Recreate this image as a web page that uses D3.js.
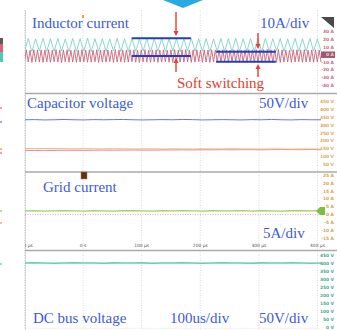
<!DOCTYPE html>
<html><head><meta charset="utf-8">
<script src="https://cdn.jsdelivr.net/npm/d3@7"></script>
<style>html,body{margin:0;padding:0;background:#fff;overflow:hidden}svg{display:block}</style>
</head><body>
<svg id="c" width="337" height="330"></svg>
<script>
// ---------- data ----------
const timeTicks = [-100, 0, 100, 200, 300, 400];
const timeTickLabels = ["-100 µs", "0 s", "100 µs", "200 µs", "300 µs", "400 µs"];
const tStart = -100, tEnd = 406;

// inductor current (A): alternating valley/peak values of the two phase currents
const inductorTeal = [4.2,21.0,3.8,20.6,4.5,21.3,3.9,20.8,4.1,21.1,4.4,20.5,3.7,21.2,4.0,20.9,4.3,21.4,3.6,20.7,
  4.2,21.0,3.9,20.6,4.6,21.2,4.0,20.8,3.8,21.3,4.1,20.5,4.4,21.1,3.7,20.9,4.2,21.2,3.9,20.7,
  4.3,21.0,3.8,20.6,4.5,21.3,4.0,20.8,4.1,21.1,3.6,20.5,4.4,21.2,3.9,20.9,4.2,21.4,3.8,20.7,
  4.0,21.0,4.3,20.6,3.7,21.2,4.1,20.8,4.5,21.1,3.9,20.5,4.2,21.3,3.8,20.9,4.0,21.0,4.4,20.7,4.1];
const inductorRed = [-10.2,6.1,-9.8,5.7,-10.5,6.3,-9.6,5.9,-10.1,6.0,-10.4,5.8,-9.9,6.2,-10.3,5.6,-9.7,6.4,-10.0,5.9,
  -10.6,6.0,-9.8,6.2,-10.2,5.7,-9.9,6.1,-10.4,5.8,-10.0,6.3,-9.7,5.9,-10.3,6.0,-10.1,5.6,-9.8,6.2,
  -10.5,5.9,-9.9,6.1,-10.2,6.0,-9.6,5.8,-10.4,6.3,-10.0,5.7,-9.8,6.1,-10.3,5.9,-10.1,6.2,-9.7,6.0,
  -10.2,5.8,-10.5,6.1,-9.9,6.3,-10.0,5.7,-10.3,6.0,-9.8,6.2,-10.4,5.9,-10.1,6.1,-9.7,5.8,-10.2,6.0,
  -10.6,6.4,-9.9,5.9,-10.2,6.1,-10.0,6.3,-9.8,5.8,-10.4,6.0,-10.1,6.2,-9.7,5.7,-10.3,6.1,-10.0,5.9,
  -10.5,6.2,-9.8,6.0,-10.2,5.8,-10.1,6.3,-9.9,6.1,-10.4,5.9,-10.0,6.0,-9.7,6.2,-10.3,5.8,-10.1,6.1,
  -10.6,6.3,-10.2,6.1,-10.7,6.5,-10.3,6.2,-10.8,6.4,-10.1,6.6,-10.5,6.2,-10.9,6.3,-10.4,6.5,-10.6,6.1,
  -10.2,6.0,-9.9,5.8,-10.3,6.2,-10.0,6.1,-9.7,5.9,-10.4,6.3,-10.1,5.8,-9.8,6.0,-10.2,6.1,-10.0,5.9,-10.1];

// capacitor voltages (V)
const capBlue = [334,335,333,334,336,334,333,335,334,335,336,334,333,334,335,334,336,335,333,334,335,334,333,335,334,336,334,333,335,334,334];
const capOrange = [149,148,149,148,148,147,148,147,147,148,147,146,147,147,146,147,146,146,147,146,146,147,146,146,145,146,146,145,146,146,145];
const capPink = [136,137,136,137,138,138,137,138,139,138,139,140,139,139,140,140,141,140,141,141,142,141,142,142,141,142,143,142,142,143,142];
// grid current (A)
const gridCurrent = [2.3,2.4,2.2,2.3,2.5,2.3,2.2,2.4,2.3,2.2,2.4,2.5,2.3,2.2,2.4,2.3,2.5,2.3,2.2,2.4,2.3,2.3,2.5,2.2,2.4,2.3,2.2,2.4,2.5,2.3,2.4];
// DC bus voltage (V)
const dcBus = [400,401,400,399,400,401,400,400,399,401,400,400,401,399,400,400,401,400,399,400,401,400,400,399,401,400,400,401,400,399,400];

// right-hand scale labels
const p1Ticks = [30,20,10,0,-10,-20,-30,-40];
const p2Ticks = [450,400,350,300,250,200,150,100,50];
const p3Ticks = [25,20,15,10,5,0,-5,-10,-15];
const p4Ticks = [450,400,350,300,250,200,150,100,50,0];

// soft-switching marker windows: [t start µs, t end µs, level A]
const markerLines = [[83, 184, 21.5], [83, 184, -2], [227, 329, 3.7], [227, 329, -9.6]];

// ---------- drawing ----------
const svg = d3.select("#c");
const x = d3.scaleLinear().domain([-100, 400]).range([24.5, 317.5]);

const panels = [
  {top: 10, bottom: 93, y: d3.scaleLinear().domain([-40, 30]).range([84.8, 31.7]), ticks: p1Ticks, unit: "A", color: "#c96a84"},
  {top: 94, bottom: 171.5, y: d3.scaleLinear().domain([50, 450]).range([164, 101.7]), ticks: p2Ticks, unit: "V", color: "#dcaa5e"},
  {top: 172.5, bottom: 250, y: d3.scaleLinear().domain([-15, 25]).range([238.3, 175]), ticks: p3Ticks, unit: "A", color: "#d4a552"},
  {top: 251, bottom: 330, y: d3.scaleLinear().domain([0, 450]).range([327.3, 255]), ticks: p4Ticks, unit: "V", color: "#4aae90"}
];

const defs = svg.append("defs");
panels.forEach((p, i) => {
  defs.append("clipPath").attr("id", "clip" + i).append("rect")
    .attr("x", 25).attr("y", p.top).attr("width", 300).attr("height", p.bottom - p.top);
});
defs.append("clipPath").attr("id", "clipAxis").append("rect")
  .attr("x", 25).attr("y", 0).attr("width", 312).attr("height", 330);

// top chevron
svg.append("polygon").attr("points", "163,0 203,0 183,8").attr("fill", "#29a9e1");

// left strip markers
[[38, 44, "#5a5a5a"], [44, 52, "#e0607c"], [52, 62, "#4fc8b6"]].forEach(d => {
  svg.append("rect").attr("x", 0).attr("y", d[0]).attr("width", 3).attr("height", d[1] - d[0]).attr("fill", d[2]);
});
[[107, "#f0a0b8"], [121, "#a0a8e8"], [148, "#f0c080"], [152, "#f0a0c8"], [210, "#c0e090"], [222, "#f0c0a0"], [263, "#90e0c8"]].forEach(d => {
  svg.append("rect").attr("x", 0).attr("y", d[0]).attr("width", 2).attr("height", 2).attr("fill", d[1]);
});

// left border
svg.append("line").attr("x1", 25.5).attr("x2", 25.5).attr("y1", 10).attr("y2", 330).attr("stroke", "#d4d4d4").attr("stroke-width", 1);

// vertical dotted grid
timeTicks.forEach(t => {
  svg.append("line").attr("x1", x(t)).attr("x2", x(t)).attr("y1", 10).attr("y2", 330)
    .attr("stroke", "#d2d2d2").attr("stroke-width", 0.8).attr("stroke-dasharray", "1,1.5");
});

// grid-current zero reference and dc bus bottom dotted line
svg.append("line").attr("x1", 25).attr("x2", 320).attr("y1", panels[2].y(0)).attr("y2", panels[2].y(0))
  .attr("stroke", "#e4a0a0").attr("stroke-width", 0.9).attr("stroke-dasharray", "1,1.5");
svg.append("line").attr("x1", 25).attr("x2", 320).attr("y1", panels[3].y(0) + 1).attr("y2", panels[3].y(0) + 1)
  .attr("stroke", "#d8d8d8").attr("stroke-width", 0.8).attr("stroke-dasharray", "1,1.5");

// separators
[93.5, 172, 250.5].forEach(yy => {
  svg.append("line").attr("x1", 25).attr("x2", 337).attr("y1", yy).attr("y2", yy).attr("stroke", "#aaaaaa").attr("stroke-width", 1.5);
});

function series(vals) {
  const dt = (tEnd - tStart) / (vals.length - 1);
  return vals.map((v, i) => [tStart + i * dt, v]);
}
function drawLine(pi, vals, color, w) {
  const p = panels[pi];
  const line = d3.line().x(d => x(d[0])).y(d => p.y(d[1]));
  svg.append("path").attr("d", line(series(vals))).attr("fill", "none")
    .attr("stroke", color).attr("stroke-width", w).attr("clip-path", "url(#clip" + pi + ")");
}

drawLine(0, inductorRed, "#c8657c", 0.9);
drawLine(0, inductorTeal, "#80d2c8", 0.9);
drawLine(1, capPink, "#e88ab2", 1);
drawLine(1, capOrange, "#ecae6a", 1);
drawLine(1, capBlue, "#6a7ad6", 1);
drawLine(2, gridCurrent, "#a4d068", 1.3);
drawLine(3, dcBus, "#66ceb2", 1.6);

// right labels
panels.forEach(p => {
  p.ticks.forEach(t => {
    svg.append("text").attr("x", 334).attr("y", p.y(t) + 1.7).attr("text-anchor", "end")
      .attr("font-family", "DejaVu Sans, sans-serif").attr("font-size", 4.4).attr("font-weight", "bold")
      .attr("fill", p.color).text(t + " " + p.unit);
  });
});

// scope markers
svg.append("polygon").attr("points", "321,17 334,17 334,28").attr("fill", "#4a4a4a");
svg.append("rect").attr("x", 321).attr("y", panels[0].y(0) - 3).attr("width", 14).attr("height", 6.5).attr("fill", "#8a2d4c").attr("opacity", 0.8);
svg.append("text").attr("x", 334).attr("y", panels[0].y(0) + 1.7).attr("text-anchor", "end")
  .attr("font-family", "DejaVu Sans, sans-serif").attr("font-size", 4.4).attr("font-weight", "bold").attr("fill", "#f4d0dc").text("0 A");
svg.append("polygon").attr("points", "316,211 320,207 325,207 325,215 320,215").attr("fill", "#7cc040");
svg.append("rect").attr("x", 82).attr("y", 15).attr("width", 2).attr("height", 3).attr("fill", "#f0a040");
svg.append("rect").attr("x", 81).attr("y", 172).attr("width", 6).attr("height", 7).attr("fill", "#5a3418").attr("stroke", "#c07030").attr("stroke-width", 0.5);

// time axis labels
const tg = svg.append("g").attr("clip-path", "url(#clipAxis)");
timeTicks.forEach((t, i) => {
  tg.append("text").attr("x", x(t)).attr("y", 247).attr("text-anchor", "middle")
    .attr("font-family", "DejaVu Sans, sans-serif").attr("font-size", 4.4).attr("fill", "#555").text(timeTickLabels[i]);
});

// blue markers
const blue = "#1f3fc4";
markerLines.forEach(d => {
  svg.append("line").attr("x1", x(d[0])).attr("x2", x(d[1])).attr("y1", panels[0].y(d[2])).attr("y2", panels[0].y(d[2]))
    .attr("stroke", blue).attr("stroke-width", 2);
});

// red arrows
const red = "#e0402e";
function arrow(xx, y1, y2) {
  svg.append("line").attr("x1", xx).attr("x2", xx).attr("y1", y1).attr("y2", y2 + (y2 > y1 ? -4 : 4))
    .attr("stroke", red).attr("stroke-width", 1.4);
  const s = y2 > y1 ? -1 : 1;
  svg.append("polygon").attr("points", `${xx - 2.5},${y2 + s * 5} ${xx + 2.5},${y2 + s * 5} ${xx},${y2}`).attr("fill", red);
}
arrow(176, 12, 36);
arrow(176, 72, 58);
arrow(258, 33, 49);
arrow(258, 77, 64);

// texts
const tBlue = "#3b5bdb";
function label(xx, yy, s, c) {
  svg.append("text").attr("x", xx).attr("y", yy).attr("font-family", "Liberation Serif, serif")
    .attr("font-size", 15).attr("fill", c).text(s);
}
label(32, 28, "Inductor current", tBlue);
label(260, 28, "10A/div", tBlue);
label(177, 88, "Soft switching", red);
label(27, 108, "Capacitor voltage", tBlue);
label(259, 108, "50V/div", tBlue);
label(43, 192, "Grid current", tBlue);
label(263, 238, "5A/div", tBlue);
label(33, 323, "DC bus voltage", tBlue);
label(170, 323, "100us/div", tBlue);
label(259, 323, "50V/div", tBlue);
</script>
</body></html>
